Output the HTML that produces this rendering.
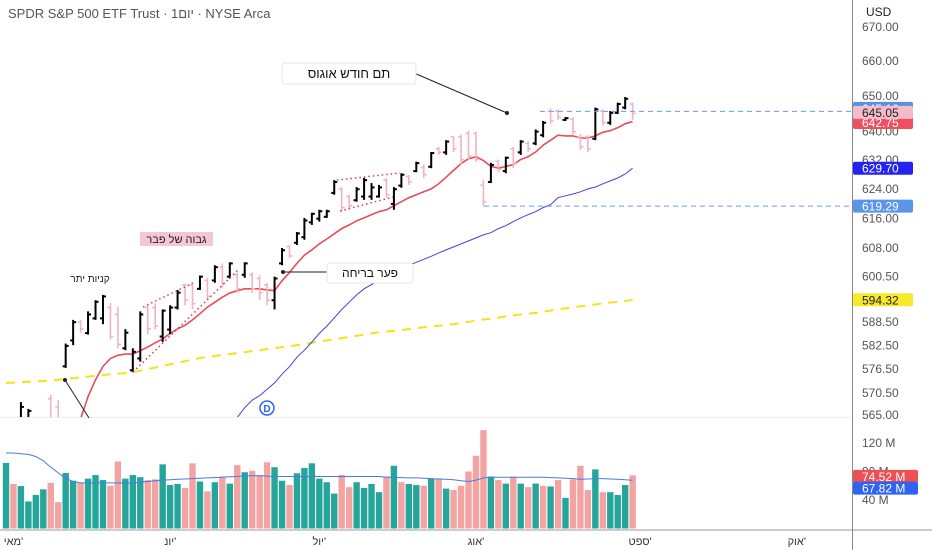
<!DOCTYPE html>
<html><head><meta charset="utf-8">
<style>
html,body{margin:0;padding:0;background:#fff;}
svg{display:block;font-family:"Liberation Sans","Noto Sans CJK JP",sans-serif;}
</style></head>
<body>
<svg id="chart" width="932" height="550" viewBox="0 0 932 550" xmlns="http://www.w3.org/2000/svg">
  <rect x="0" y="0" width="932" height="550" fill="#fff"/>
  <defs>
    <clipPath id="pricePane"><rect x="0" y="0" width="852" height="417"/></clipPath>
    <clipPath id="volPane"><rect x="0" y="418" width="852" height="112"/></clipPath>
  </defs>
  <text x="8" y="18" font-size="13" fill="#555">SPDR S&amp;P 500 ETF Trust · 1יום · NYSE Arca</text>
  <g id="priceG" clip-path="url(#pricePane)"></g>
  <g id="volG" clip-path="url(#volPane)"></g>
  <line x1="0" y1="417.5" x2="852" y2="417.5" stroke="#eee" stroke-width="1"/>
  <line x1="0" y1="530" x2="932" y2="530" stroke="#999" stroke-width="1"/>
  <line x1="852.5" y1="0" x2="852.5" y2="550" stroke="#888" stroke-width="1"/>
  <g id="axisG"></g>
  <g id="annG"></g>
</svg>
<script>
// ---- data ----
const opens  = [550,559,563,563,561,562,569,567,577.2,583.8,588.5,585.7,589.5,589.5,592.3,590.5,581.8,576.2,579.2,592.3,592.3,584.8,586.6,592.3,598.2,598.2,597.2,599.4,599.4,602.9,600.4,600.9,600.9,600.9,599.9,598.2,594.2,603.9,608.4,609.4,610.9,614.9,615.9,616.4,622.9,623.9,621.9,620.9,621.9,621.9,621.9,626.4,619.9,624.9,627.4,628.9,629.9,630.1,635.1,634.1,638.4,638.4,639.4,639.4,625.0,625.9,631.6,628.9,635.1,634.1,636.6,636.6,638.9,645.7,645.7,643.2,643.4,638.4,638.4,637.9,645.7,642.4,645.2,646.7,647.7];
const highs  = [556,560,568.2,566.5,562,563,570,568.7,583,589.1,589.1,591.3,594.2,595.6,593.5,592.5,586.7,581.8,591.3,592.9,593.4,591.8,592.9,596.9,598.5,598.8,600.7,600.1,603.4,603.9,604.2,601.5,604.2,601.5,600.7,598.8,600.4,608,608.8,612.3,616.1,617.5,618.3,618.3,626.4,624.5,622.4,624.5,627,625.6,625.1,627,624.5,628.3,627.8,631.5,630.7,634.2,635.6,637.5,638.6,639.1,640.2,639.9,626.4,631.2,632.1,632.9,635.6,637.5,637.2,640.5,642.9,646.5,646.2,644,644,639.1,638.9,646.7,646.2,645.7,648.1,649.7,648.1];
const lows   = [548,552,562,562,555,556,561,561,576.8,582.6,585.8,585.3,589.1,588,584,581.8,581.3,575.7,578.4,585.4,586.6,583.4,585.4,591.8,592.9,591.8,596.9,594.2,598.8,597.5,599.9,596.1,600.1,596.1,594.2,592.9,591.8,603.4,605.3,608.8,610.2,614.2,615.1,616.1,622.4,617.8,618.3,620.5,621,621,621.6,621.6,618.3,624.3,625.1,628.6,627,629.7,633.4,633.4,634.2,630.7,632.1,631.5,619.3,625.6,628.6,628.3,629.7,633.4,634.2,636.1,638.3,642.1,643.2,642.9,639.1,634.8,634.2,637.5,641.8,641.8,644.9,646.2,643.2];
const closes = [555,553,567,566,556,557,563,564,582.4,588.5,586.7,590.5,593.8,595.2,584.8,582.8,585.8,580.9,590.5,586.8,587.5,591.5,592.3,596.2,594.3,593.3,600.4,595.2,602.9,598.7,603.9,597.2,603.9,597.2,596.2,594.2,599.9,607.4,605.9,611.9,615.4,617.2,617.9,617.9,625.9,618.9,619.4,623.9,626.4,624.4,624.4,622.4,623.9,627.9,625.9,631.1,627.9,633.9,634.1,637.1,635.1,632.1,633.1,632.1,620.5,630.6,629.4,632.6,631.1,637.1,635.1,639.9,642.4,642.9,643.9,643.7,639.9,635.6,635.1,646.2,642.4,645.2,647.7,649.2,645.05];
const ma20 = [545,547,549,551,553,555,557,559,561,562.5,564.1,569.6,573.8,577.2,579.2,580,580.3,580.3,581.2,582.1,583.2,584.2,585.6,586.8,587.7,589.1,590.7,592.4,593.7,595,596.1,596.7,597.2,597.2,597.2,596.9,596.7,599.3,601.5,603.9,606.1,607.5,609.1,610.4,611.8,613.2,614.2,615.3,616.1,617,617.8,618.3,619.4,620.5,621.6,622.4,623.2,624,625.4,627.2,629.1,631,632.3,632.9,631.8,630.2,629.7,630.2,630.7,632.1,632.9,634.2,636.1,637.5,638.9,638.7,638.7,638.1,638.1,638.7,639.7,640.2,641,642.1,642.75];
const ma50 = [540,541,542,543,544,545,546,547,548,549,550,551,552,553,554,555,556,556.5,557,557.5,558,558.5,559,559.5,560,560.5,561,561.5,562,562.5,562.8,564.4,566.8,568.7,569.8,571.4,573,575.2,577.1,579.5,581.3,583.4,585.6,587.5,589.6,591.8,593.7,595.6,597.2,598.3,599.6,600.4,601.5,602.6,603.4,604.2,605,605.8,606.7,607.5,608.3,609.1,609.9,610.7,611.5,612.1,613.2,614,615.1,616.1,617,617.8,618.9,619.7,621.6,622.1,622.6,623.2,624,624.5,625.4,626.2,627,628.1,629.7];
const ma200 = [573.0,573.1,573.2,573.3,573.4,573.5,573.6,573.8,574.0,574.2,574.4,574.6,574.8,575.0,575.2,575.3,575.5,575.7,576.1,576.5,576.9,577.3,577.7,578.1,578.5,578.9,579.3,579.6,579.8,580.1,580.3,580.6,580.8,581.1,581.3,581.6,581.8,582.1,582.3,582.6,582.9,583.2,583.5,583.8,584.1,584.4,584.7,585.0,585.3,585.6,585.9,586.1,586.3,586.5,586.7,587.0,587.2,587.4,587.6,587.8,588.0,588.3,588.6,588.9,589.2,589.4,589.7,590.0,590.3,590.5,590.7,590.9,591.2,591.5,591.8,592.1,592.4,592.6,592.9,593.1,593.4,593.6,593.8,594.0,594.32];
const volumes = [92,62.5,59.6,38,47,55,64,37,78,67,64,70,75,68,60,94,70,75,72,68,69,90,61,62.5,57,91.5,66,52,65,73,63,89,79,81,75,93,86,67,61,77.5,85,91.5,70,65,49,75,58,65,57,62.5,51,73,88,65,62.5,61,60,70,70,56,54,60,80,102,138,73,68,63,73,63,58,63,60,59,68,43,69,88,54,83,51,51,47,61,74.52];
const volUp = [1,0,1,1,1,1,0,0,1,1,0,1,1,1,0,0,1,1,1,0,0,1,1,1,0,0,1,0,1,0,1,0,1,0,0,0,1,1,0,1,1,1,1,1,1,0,0,1,1,1,1,0,1,0,1,1,0,1,0,1,0,0,0,0,0,1,0,1,0,1,0,1,0,1,0,1,0,0,0,1,0,1,1,1,0];
const volMA = [106,106,105,104,101,95,86,78,70,66,64,64,64,64,64,64,64,64,65,66,67,68,68.5,69,69.5,70,70.5,71,71.5,72,72.5,73,74,74,74,73.5,73,73,73,73,73,73,73,73,73,73,73,73,73,73,73,72,72,71.5,71,71,70.5,70,69.5,69,68.5,67,66,68,71,72,72,72,72,72,72,72,72,71.5,71,70.5,70,69,69.5,70,70,69.5,69,68.5,67.82];
const priceTicks = [670,660,650,640,632,624,616,608,600.5,588.5,582.5,576.5,570.5,565];
const priceTickLabels = ["670.00","660.00","650.00","640.00","632.00","624.00","616.00","608.00","600.50","588.50","582.50","576.50","570.50","565.00"];
const volTicks = [120,80,40];
const volTickLabels = ["120 M","80 M","40 M"];
const monthIdx = [1,22,42,63,85,106];
const monthLabels = ["מאי'","יונ'","יול'","אוג'","ספט'","אוק'"];
const flagUpperHigh = 645.6;
const swingLow = 619.29;

// ---- scales ----
const P_TOP = 670, Y_TOP = 27, LOGK = 2276;
function yP(p){ return Y_TOP + LOGK*Math.log(P_TOP/p); }
function yV(v){ return 528.5 - v*0.7125; }
function xI(i){ return 6 + 7.46*i; }

const NS = "http://www.w3.org/2000/svg";
function mk(tag, attrs, parent){
  const e = document.createElementNS(NS, tag);
  for (const k in attrs) e.setAttribute(k, attrs[k]);
  parent.appendChild(e); return e;
}
const priceG = document.getElementById('priceG');
const volG = document.getElementById('volG');
const axisG = document.getElementById('axisG');
const annG = document.getElementById('annG');

function linePath(arr){ return arr.map((v,i)=>(i?'L':'M')+xI(i).toFixed(1)+' '+yP(v).toFixed(1)).join(' '); }
let l200 = mk('path',{d:linePath(ma200),fill:'none',stroke:'#f5e21c','stroke-width':2,'stroke-dasharray':'9 7'},priceG);


let l50 = mk('path',{d:linePath(ma50),fill:'none',stroke:'#4a3fdc','stroke-width':1},priceG);


let l20 = mk('path',{d:linePath(ma20),fill:'none',stroke:'#ec4a57','stroke-width':1.6},priceG);



for (let i=0;i<closes.length;i++){
  const up = closes[i] >= opens[i];
  const col = up ? '#000' : '#f3b3c3';
  const w = up ? 2 : 1.6;
  const x = xI(i);
  const g = mk('g',{},priceG);
  
  
  mk('line',{x1:x,y1:yP(highs[i]),x2:x,y2:yP(lows[i]),stroke:col,'stroke-width':w},g);
  mk('line',{x1:x-3,y1:yP(opens[i]),x2:x,y2:yP(opens[i]),stroke:col,'stroke-width':w},g);
  mk('line',{x1:x,y1:yP(closes[i]),x2:x+3,y2:yP(closes[i]),stroke:col,'stroke-width':w},g);
}

for (let i=0;i<volumes.length;i++){
  const x = xI(i);
  const r = mk('rect',{x:x-3.2,y:yV(volumes[i]),width:6.4,height:528.5-yV(volumes[i]),fill:volUp[i]?'#26a69a':'#f4a3a3'},volG);
  
  
}
let vma = mk('path',{d:volMA.map((v,i)=>(i?'L':'M')+xI(i).toFixed(1)+' '+yV(v).toFixed(1)).join(' '),fill:'none',stroke:'#4a7be0','stroke-width':1},volG);



let h1 = mk('line',{x1:540,y1:yP(flagUpperHigh),x2:852,y2:yP(flagUpperHigh),stroke:'#6a9be8','stroke-width':1,'stroke-dasharray':'5 4'},annG);


let h2 = mk('line',{x1:484,y1:yP(swingLow),x2:852,y2:yP(swingLow),stroke:'#6a9be8','stroke-width':1,'stroke-dasharray':'5 4'},annG);



for (let k=0;k<priceTicks.length;k++){
  const t = mk('text',{x:862,y:yP(priceTicks[k])+4,'font-size':12,fill:'#555'},axisG);
  t.textContent = priceTickLabels[k];
  
  
}
for (let k=0;k<volTicks.length;k++){
  const t = mk('text',{x:862,y:yV(volTicks[k])+4,'font-size':12,fill:'#555'},axisG);
  t.textContent = volTickLabels[k];
  
  
}
for (let k=0;k<monthIdx.length;k++){
  const t = mk('text',{x:xI(monthIdx[k]),y:545,'font-size':11,fill:'#333','text-anchor':'middle'},axisG);
  t.textContent = monthLabels[k];
  
  
}
mk('rect',{x:853,y:0,width:79,height:22,fill:'#fff'},axisG);
let usd = mk('text',{x:866,y:16,'font-size':12,fill:'#222'},axisG);
usd.textContent = 'USD';



function tag(val, txt, bg, fg, name, yfun, dy, w){
  const y = yfun(val) + (dy||0);
  const g = mk('g',{},axisG);
  
  
  mk('rect',{x:853,y:y-6.5,width:w||60,height:13,rx:2,fill:bg},g);
  const t = mk('text',{x:862,y:y+4.5,'font-size':12,fill:fg},g);
  t.textContent = txt;
}
tag(flagUpperHigh,'645.16','#5b8fe0','#fff','high-level-tag',yP,-3);
tag(ma20[ma20.length-1],'642.75','#ef5060','#fff','ma20-tag',yP,1);
tag(closes[closes.length-1],'645.05','#f4bccb','#222','last-price-tag',yP,-1);
tag(ma50[ma50.length-1],'629.70','#2424f0','#fff','ma50-tag',yP);
tag(swingLow,'619.29','#5b95ea','#fff','low-level-tag',yP);
tag(ma200[ma200.length-1],'594.32','#f8ea2a','#222','ma200-tag',yP);
tag(volumes[volumes.length-1],'74.52 M','#ee4f55','#fff','volume-tag',yV,1,65);
tag(volMA[volMA.length-1],'67.82 M','#2f63f0','#fff','volume-ma-tag',yV,8,65);
</script>

<svg style="position:absolute;left:0;top:0" width="932" height="550" viewBox="0 0 932 550">
  <g stroke="#d23a5a" stroke-width="1.5" stroke-dasharray="1.5 3" fill="none">
    <line x1="143" y1="307" x2="193" y2="283"/>
    <line x1="133" y1="372" x2="238" y2="270"/>
    <line x1="337" y1="180" x2="400" y2="173"/>
    <line x1="340" y1="211" x2="393" y2="197"/>
  </g>
  <g>
    <line x1="414" y1="73" x2="507" y2="113" stroke="#222" stroke-width="1"/>
    <circle cx="507" cy="113" r="2" fill="#222"/>
    <rect x="282" y="63" width="134" height="21" rx="3" fill="#fff" stroke="#e6e6e6"/>
    <text x="349" y="78" font-size="13" fill="#111" text-anchor="middle" font-family="Liberation Sans, Noto Sans CJK JP, sans-serif">תם חודש אוגוס</text>
  </g>
  <g>
    <line x1="283" y1="272" x2="327" y2="272" stroke="#222" stroke-width="1"/>
    <circle cx="283" cy="272" r="2" fill="#222"/>
    <rect x="327" y="263" width="86" height="20" rx="3" fill="#fff" stroke="#e6e6e6"/>
    <text x="370" y="277" font-size="12" fill="#111" text-anchor="middle" font-family="Liberation Sans, Noto Sans CJK JP, sans-serif">פער בריחה</text>
  </g>
  <g>
    <rect x="140" y="232" width="73" height="14" fill="#f5c6d3"/>
    <text x="176.5" y="243" font-size="11" fill="#222" text-anchor="middle" font-family="Liberation Sans, Noto Sans CJK JP, sans-serif">גבוה של פבר</text>
  </g>
  <text x="90" y="282" font-size="10" fill="#222" text-anchor="middle" font-family="Liberation Sans, Noto Sans CJK JP, sans-serif">קניות יתר</text>
  <g>
    <line x1="65" y1="380" x2="89" y2="418" stroke="#222" stroke-width="1"/>
    <circle cx="65" cy="380" r="2" fill="#222"/>
  </g>
  <g>
    <circle cx="267" cy="408" r="7" fill="#fff" stroke="#2962ff" stroke-width="1.5"/>
    <text x="267" y="412" font-size="10" font-weight="bold" fill="#2962ff" text-anchor="middle" font-family="Liberation Sans, sans-serif">D</text>
  </g>
</svg>
</body></html>
